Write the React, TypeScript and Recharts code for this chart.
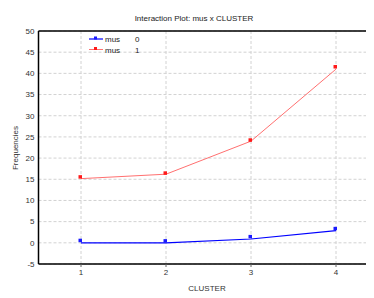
import { ComposedChart, Line, XAxis, YAxis, CartesianGrid, ReferenceLine } from "recharts";

const clusters = [1, 2, 3, 4];
const mus0Means = [0.5, 0.4, 1.4, 3.3];
const mus0Fit = [0, 0, 0.9, 2.9];
const mus1Means = [15.5, 16.4, 24.2, 41.5];
const mus1Fit = [15.15, 16.2, 24.0, 41.0];
const yTicks = [-5, 0, 5, 10, 15, 20, 25, 30, 35, 40, 45, 50];

const BLUE = "#0000ff";
const RED = "#ff7070";
const FONT = "'Liberation Sans', Arial, sans-serif";

const rows = clusters.map((c, i) => ({
  cluster: c,
  m0: mus0Means[i],
  f0: mus0Fit[i],
  m1: mus1Means[i],
  f1: mus1Fit[i],
}));

const squareDot = (fill: string) =>
  // eslint-disable-next-line @typescript-eslint/no-explicit-any
  (p: any) => (
    <rect
      key={`${fill}-${p.index}`}
      x={p.cx - 2.5}
      y={p.cy - 2}
      width={3.5}
      height={3.5}
      fill={fill}
    />
  );

export default function App() {
  return (
    <div
      style={{
        position: "relative",
        marginLeft: -8,
        marginTop: -8,
        width: 374,
        height: 298,
        overflow: "hidden",
        background: "#fff",
        fontFamily: FONT,
      }}
    >
      <ComposedChart
        width={380}
        height={298}
        data={rows}
        margin={{ top: 31, right: 1.5, bottom: 0, left: 0 }}
      >
        <CartesianGrid stroke="#d2d2d2" strokeDasharray="3 2" />
        <XAxis
          dataKey="cluster"
          type="number"
          domain={[0.5, 4.5]}
          ticks={clusters}
          height={34}
          tickSize={3}
          tickMargin={2}
          stroke="#000"
          tick={{ fontSize: 8, fill: "#333", fontFamily: FONT }}
          axisLine={{ stroke: "#000", strokeWidth: 1.5 }}
          tickLine={{ stroke: "#666" }}
        />
        <YAxis
          type="number"
          domain={[-5, 50]}
          ticks={yTicks}
          width={38.5}
          tickSize={0}
          tickMargin={4}
          tick={{ fontSize: 8, fill: "#333", fontFamily: FONT }}
          axisLine={{ stroke: "#000", strokeWidth: 1.5 }}
          interval={0}
        />
        <ReferenceLine y={50} stroke="#000" strokeWidth={1.5} />
        <Line
          type="linear"
          dataKey="f0"
          stroke={BLUE}
          strokeWidth={1.2}
          dot={false}
          isAnimationActive={false}
        />
        <Line
          type="linear"
          dataKey="f1"
          stroke={RED}
          strokeWidth={1}
          dot={false}
          isAnimationActive={false}
        />
        <Line
          dataKey="m0"
          stroke="none"
          dot={squareDot("#1a1aff")}
          isAnimationActive={false}
        />
        <Line
          dataKey="m1"
          stroke="none"
          dot={squareDot("#ff1a1a")}
          isAnimationActive={false}
        />
      </ComposedChart>
      <svg
        width={374}
        height={298}
        style={{ position: "absolute", left: 0, top: 0, pointerEvents: "none" }}
        fontFamily={FONT}
      >
        <text x={194} y={21} fontSize={8} textAnchor="middle" fill="#222">
          Interaction Plot: mus x CLUSTER
        </text>
        <text
          x={0}
          y={0}
          fontSize={8}
          textAnchor="middle"
          fill="#333"
          transform="translate(18,148) rotate(-90)"
        >
          Frequencies
        </text>
        <text x={207} y={291} fontSize={8} textAnchor="middle" fill="#333">
          CLUSTER
        </text>
        <line x1={89} x2={103} y1={39} y2={39} stroke={BLUE} strokeWidth={1.2} />
        <rect x={94} y={36.5} width={3} height={3} fill="#1a1aff" />
        <text x={105} y={42} fontSize={8} fill="#222">mus</text>
        <text x={135} y={42} fontSize={8} fill="#222">0</text>
        <line x1={89} x2={103} y1={49.5} y2={49.5} stroke={RED} strokeWidth={1} />
        <rect x={94} y={47} width={3} height={3} fill="#ff1a1a" />
        <text x={105} y={52.5} fontSize={8} fill="#222">mus</text>
        <text x={135} y={52.5} fontSize={8} fill="#222">1</text>
      </svg>
    </div>
  );
}
